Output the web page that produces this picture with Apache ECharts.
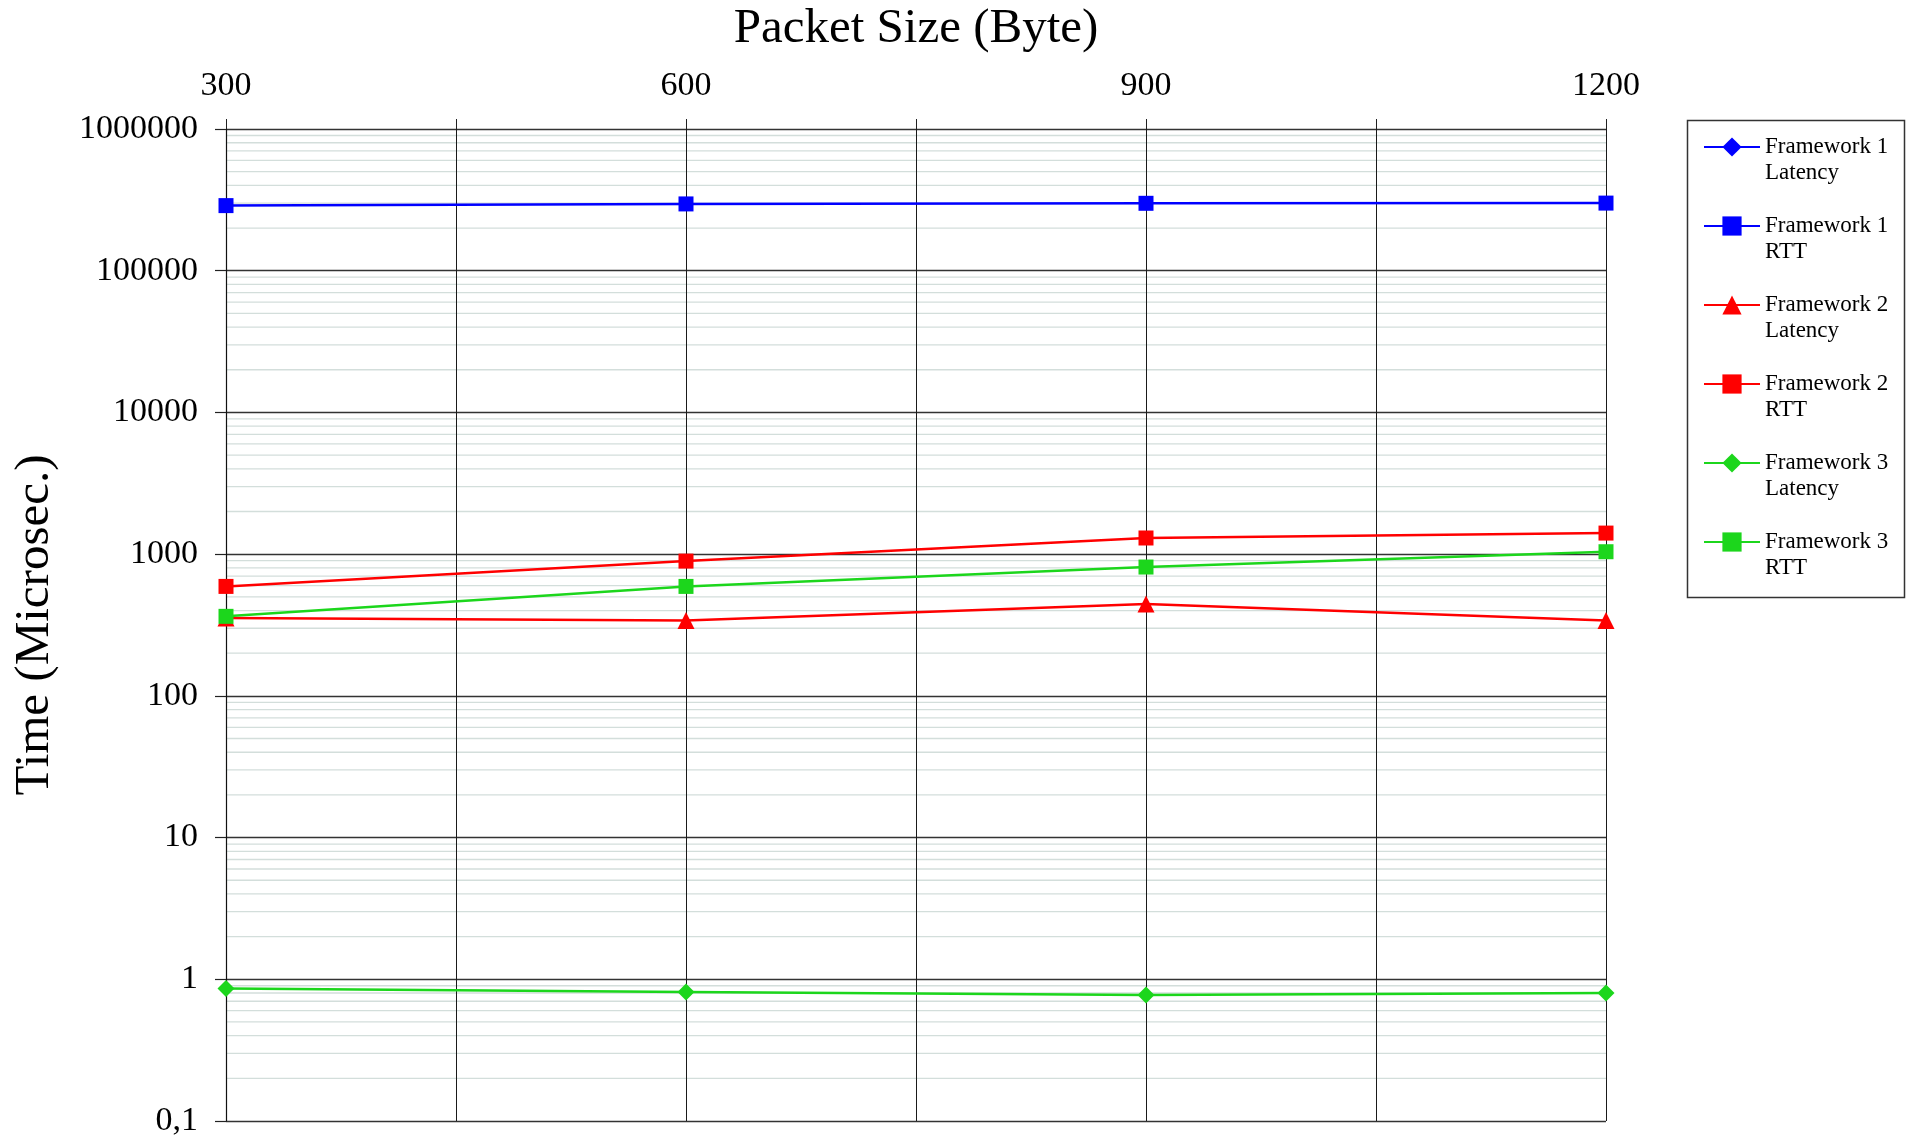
<!DOCTYPE html>
<html>
<head>
<meta charset="utf-8">
<script src="https://cdn.jsdelivr.net/npm/echarts@6/dist/echarts.min.js"></script>
<style>
html,body{margin:0;padding:0;background:#fff;}
#chart{width:1912px;height:1143px;}
</style>
</head>
<body>
<div id="chart"></div>
<script>
// ---- Data ----
const packetSizes = [300, 600, 900, 1200];
const xTickLabels = [300, 600, 900, 1200];
const yTickValues = [0.1, 1, 10, 100, 1000, 10000, 100000, 1000000];
const seriesNames = [
  'Framework 1\nLatency', 'Framework 1\nRTT',
  'Framework 2\nLatency', 'Framework 2\nRTT',
  'Framework 3\nLatency', 'Framework 3\nRTT'
];
const fw1Latency = [null, null, null, null];
const fw1RTT = [288000, 296000, 299000, 300000];
const fw2Latency = [355, 340, 445, 340];
const fw2RTT = [592, 893, 1300, 1408];
const fw3Latency = [0.86, 0.815, 0.775, 0.80];
const fw3RTT = [364, 592, 811, 1040];

// minor log grid values (2..9 within each decade)
const minorGrid = [];
for (let d = 0; d < yTickValues.length - 1; d++) {
  for (let m = 2; m <= 9; m++) minorGrid.push(+(yTickValues[d] * m).toPrecision(6));
}

const FONT = 'Liberation Serif';
const BLUE = '#0000ff', RED = '#ff0000', GREEN = '#1cd61c';

function pts(arr) { return packetSizes.map((x, i) => [x, arr[i]]); }

function lineSeries(name, arr, color, symbol, size) {
  return {
    name: name, type: 'line', data: pts(arr), z: 3,
    symbol: symbol, symbolSize: size, showAllSymbol: true,
    lineStyle: { color: color, width: 2.5 },
    itemStyle: { color: color },
    emphasis: { disabled: true },
    animation: false, connectNulls: false
  };
}

const chart = echarts.init(document.getElementById('chart'), null, { renderer: 'canvas' });
chart.setOption({
  animation: false,
  backgroundColor: '#ffffff',
  textStyle: { fontFamily: FONT },
  grid: { left: 226, right: 306, top: 128, bottom: 22, containLabel: false },
  xAxis: {
    type: 'value', position: 'top', min: 300, max: 1200, interval: 150, z: 1,
    name: 'Packet Size (Byte)', nameLocation: 'middle', nameGap: 75,
    nameTextStyle: { fontFamily: FONT, fontSize: 49, color: '#000' },
    axisLine: { show: false },
    axisTick: { show: true, length: 10, inside: false, lineStyle: { color: '#222', width: 1 } },
    axisLabel: {
      fontFamily: FONT, fontSize: 34, color: '#000', margin: 26,
      formatter: v => (xTickLabels.indexOf(v) >= 0 ? String(v) : '')
    },
    splitLine: { show: true, lineStyle: { color: '#1a1a1a', width: 1 } }
  },
  yAxis: {
    type: 'log', logBase: 10, min: 0.1, max: 1000000, splitNumber: 7, z: 1,
    name: 'Time (Microsec.)', nameLocation: 'middle', nameGap: 166,
    nameTextStyle: { fontFamily: FONT, fontSize: 49, color: '#000' },
    axisLine: { show: true, lineStyle: { color: '#111', width: 1.2 } },
    axisTick: { show: true, length: 11, inside: false, lineStyle: { color: '#222', width: 1.2 } },
    axisLabel: {
      fontFamily: FONT, fontSize: 34, color: '#000', margin: 28,
      formatter: v => (v < 0.5 ? '0,1' : String(Math.round(v)))
    },
    splitLine: { show: true, lineStyle: { color: '#333', width: 1.3 } },
    minorTick: { show: false },
    minorSplitLine: { show: false }
  },
  legend: {
    orient: 'vertical', left: 1703, top: 108, padding: 0, itemGap: 1,
    itemWidth: 56, itemHeight: 24,
    data: seriesNames,
    formatter: name => '\n' + name,
    textStyle: { fontFamily: FONT, fontSize: 23, lineHeight: 26, color: '#000' },
    selectedMode: false
  },
  graphic: [{
    type: 'rect', left: 1685, top: 118, z: 10,
    shape: { width: 217, height: 477 },
    style: { fill: 'none', stroke: '#333', lineWidth: 1.5 }
  }],
  series: [
    {
      type: 'custom', name: 'minor-grid', z: 0, silent: true, legendHoverLink: false,
      data: minorGrid.map(v => [300, v]),
      renderItem: function (params, api) {
        const cs = params.coordSys;
        const p = api.coord([300, api.value(1)]);
        return {
          type: 'line', silent: true,
          shape: { x1: cs.x, y1: p[1], x2: cs.x + cs.width, y2: p[1] },
          style: { stroke: '#d3dedb', lineWidth: 1.3 }
        };
      },
      animation: false
    },
    lineSeries(seriesNames[0], fw1Latency, BLUE, 'diamond', 17),
    lineSeries(seriesNames[1], fw1RTT, BLUE, 'rect', 15),
    lineSeries(seriesNames[2], fw2Latency, RED, 'triangle', 17),
    lineSeries(seriesNames[3], fw2RTT, RED, 'rect', 15),
    lineSeries(seriesNames[4], fw3Latency, GREEN, 'diamond', 17),
    lineSeries(seriesNames[5], fw3RTT, GREEN, 'rect', 15)
  ]
});
</script>
</body>
</html>
